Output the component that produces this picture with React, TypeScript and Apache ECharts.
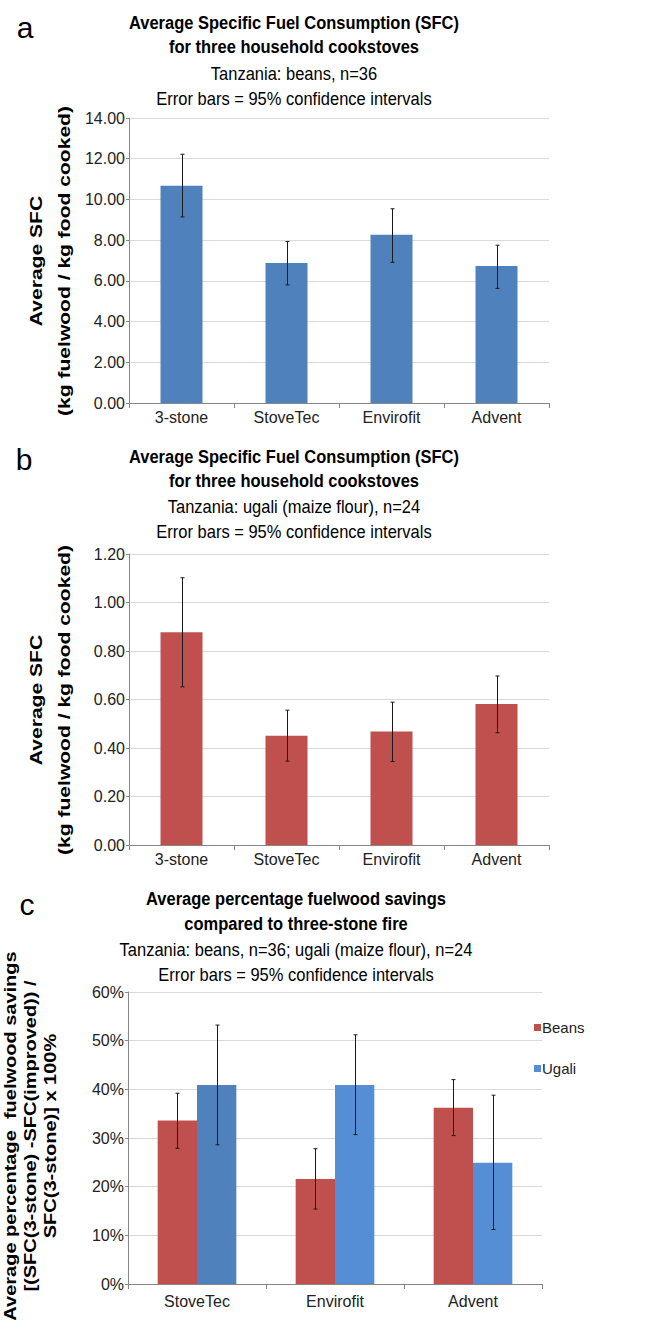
import React, { useEffect, useRef } from "react";
import * as echarts from "echarts";

// ---------- data ----------
const stoveCats = ["3-stone", "StoveTec", "Envirofit", "Advent"];
const sfcBeans = [10.67, 6.88, 8.27, 6.73];
const sfcBeansLow = [9.14, 5.8, 6.91, 5.63];
const sfcBeansHigh = [12.22, 7.93, 9.54, 7.75];

const sfcUgali = [0.877, 0.451, 0.468, 0.581];
const sfcUgaliLow = [0.652, 0.346, 0.344, 0.463];
const sfcUgaliHigh = [1.102, 0.556, 0.589, 0.697];

const improvedCats = ["StoveTec", "Envirofit", "Advent"];
const savingBeans = [33.6, 21.6, 36.2];
const savingBeansLow = [27.9, 15.4, 30.5];
const savingBeansHigh = [39.2, 27.8, 42.0];
const savingUgali = [40.9, 40.9, 24.9];
const savingUgaliLow = [28.6, 30.7, 11.2];
const savingUgaliHigh = [53.2, 51.2, 38.8];

const legendNames = ["Beans", "Ugali"];

const titleA = ["Average Specific Fuel Consumption (SFC)", "for three household cookstoves"];
const subA = ["Tanzania: beans, n=36", "Error bars = 95% confidence intervals"];
const titleB = ["Average Specific Fuel Consumption (SFC)", "for three household cookstoves"];
const subB = ["Tanzania: ugali (maize flour), n=24", "Error bars = 95% confidence intervals"];
const titleC = ["Average percentage fuelwood savings", "compared to three-stone fire"];
const subC = ["Tanzania: beans, n=36; ugali (maize flour), n=24", "Error bars = 95% confidence intervals"];
const yNameAB = "Average SFC\n(kg fuelwood / kg food cooked)";
const yNameC = "Average percentage  fuelwood savings\n[(SFC(3-stone) -SFC(improved)) /\nSFC(3-stone)] x 100%";

// ---------- styles ----------
const FONT = "'Liberation Sans', Arial, Helvetica, sans-serif";
const BLUE = "#4F81BD";
const LIGHTBLUE = "#558ED5";
const RED = "#C0504D";
const GRID = "#d9d9d9";
const AXIS = "#868686";

function errRender(offsetFrac: number) {
  return (params: any, api: any) => {
    const x = api.value(0);
    const lo = api.value(1);
    const hi = api.value(2);
    const pl = api.coord([x, lo]);
    const ph = api.coord([x, hi]);
    const band = api.size([1, 0])[0];
    const cx = Math.round(pl[0] + offsetFrac * band) + 0.5;
    const cap = 2;
    const st = { stroke: "#1a1a1a", lineWidth: 1 };
    return {
      type: "group",
      children: [
        { type: "line", shape: { x1: cx, y1: ph[1], x2: cx, y2: pl[1] }, style: st },
        { type: "line", shape: { x1: cx - cap, y1: ph[1], x2: cx + cap, y2: ph[1] }, style: st },
        { type: "line", shape: { x1: cx - cap, y1: pl[1], x2: cx + cap, y2: pl[1] }, style: st },
      ],
    };
  };
}

function makeXAxis(idx: number, cats: string[], margin: number) {
  return {
    type: "category",
    gridIndex: idx,
    data: cats,
    axisLine: { show: true, lineStyle: { color: AXIS, width: 1 } },
    axisTick: { show: true, length: 5, lineStyle: { color: AXIS } },
    axisLabel: { color: "#222", fontSize: 16, fontFamily: FONT, margin },
    splitLine: { show: false },
  };
}

function makeYAxis(idx: number, max: number, interval: number, fmt: (v: number) => string) {
  return {
    type: "value",
    gridIndex: idx,
    min: 0,
    max,
    interval,
    axisLine: { show: true, lineStyle: { color: AXIS, width: 1 } },
    axisTick: { show: true, length: 3, lineStyle: { color: AXIS } },
    axisLabel: { color: "#222", fontSize: 16, fontFamily: FONT, margin: 4, formatter: fmt },
    splitLine: { show: true, lineStyle: { color: GRID, width: 1 } },
  };
}

function titleBlock(cx: number, ys: number[], bold: string[], normal: string[]) {
  const els: any[] = [];
  bold.forEach((t, i) =>
    els.push({
      type: "text",
      x: cx,
      y: ys[i],
      scaleY: 1.12,
      style: {
        text: t,
        fontFamily: FONT,
        fontSize: 16.5,
        fontWeight: "bold",
        fill: "#000",
        align: "center",
        verticalAlign: "middle",
      },
    })
  );
  normal.forEach((t, i) =>
    els.push({
      type: "text",
      x: cx,
      y: ys[i + bold.length],
      scaleY: 1.12,
      style: {
        text: t,
        fontFamily: FONT,
        fontSize: 16.5,
        fill: "#000",
        align: "center",
        verticalAlign: "middle",
      },
    })
  );
  return els;
}

function letter(t: string, x: number, y: number) {
  return {
    type: "text",
    x,
    y,
    style: { text: t, fontFamily: FONT, fontSize: 30, fill: "#000", align: "center", verticalAlign: "middle" },
  };
}

function rotName(t: string, x: number, y: number, fs: number, lh: number, sx: number) {
  return {
    type: "text",
    x,
    y,
    rotation: Math.PI / 2,
    scaleX: sx,
    style: {
      text: t,
      fontFamily: FONT,
      fontSize: fs,
      lineHeight: lh,
      fontWeight: "bold",
      fill: "#000",
      align: "center",
      verticalAlign: "middle",
    },
  };
}

export default function App() {
  const ref = useRef<HTMLDivElement>(null);

  useEffect(() => {
    if (!ref.current) return;
    document.body.style.margin = "0";
    const chart = echarts.init(ref.current, undefined, { renderer: "svg" });

    const fmt2 = (v: number) => v.toFixed(2);
    const fmtPct = (v: number) => `${Math.round(v)}%`;

    const option: any = {
      animation: false,
      backgroundColor: "#fff",
      textStyle: { fontFamily: FONT },
      grid: [
        { left: 129, top: 118, width: 420, height: 285 },
        { left: 129, top: 554, width: 420, height: 291 },
        { left: 128, top: 992, width: 414, height: 292 },
      ],
      xAxis: [makeXAxis(0, stoveCats, 6), makeXAxis(1, stoveCats, 6), makeXAxis(2, improvedCats, 9)],
      yAxis: [makeYAxis(0, 14, 2, fmt2), makeYAxis(1, 1.2, 0.2, fmt2), makeYAxis(2, 60, 10, fmtPct)],
      legend: {
        data: legendNames,
        orient: "vertical",
        left: 529,
        top: 1015,
        itemWidth: 7,
        itemHeight: 7,
        itemGap: 26,
        icon: "rect",
        textStyle: { fontSize: 15, fontFamily: FONT, color: "#222", padding: [0, 0, 0, -4] },
      },
      series: [
        {
          name: "SFC beans",
          type: "bar",
          xAxisIndex: 0,
          yAxisIndex: 0,
          data: sfcBeans,
          barWidth: "40%",
          itemStyle: { color: BLUE },
        },
        {
          name: "SFC beans CI",
          type: "custom",
          xAxisIndex: 0,
          yAxisIndex: 0,
          z: 5,
          renderItem: errRender(0),
          encode: { x: 0, y: [1, 2] },
          data: stoveCats.map((c, i) => [i, sfcBeansLow[i], sfcBeansHigh[i]]),
        },
        {
          name: "SFC ugali",
          type: "bar",
          xAxisIndex: 1,
          yAxisIndex: 1,
          data: sfcUgali,
          barWidth: "40%",
          itemStyle: { color: RED },
        },
        {
          name: "SFC ugali CI",
          type: "custom",
          xAxisIndex: 1,
          yAxisIndex: 1,
          z: 5,
          renderItem: errRender(0),
          encode: { x: 0, y: [1, 2] },
          data: stoveCats.map((c, i) => [i, sfcUgaliLow[i], sfcUgaliHigh[i]]),
        },
        {
          name: legendNames[0],
          type: "bar",
          xAxisIndex: 2,
          yAxisIndex: 2,
          data: savingBeans,
          barGap: "0%",
          barCategoryGap: "43%",
          itemStyle: { color: RED },
        },
        {
          name: legendNames[1],
          type: "bar",
          xAxisIndex: 2,
          yAxisIndex: 2,
          data: savingUgali.map((v, i) => (i === 0 ? { value: v, itemStyle: { color: BLUE } } : v)),
          barGap: "0%",
          barCategoryGap: "43%",
          itemStyle: { color: LIGHTBLUE },
        },
        {
          name: "Beans CI",
          type: "custom",
          xAxisIndex: 2,
          yAxisIndex: 2,
          z: 5,
          renderItem: errRender(-0.1425),
          encode: { x: 0, y: [1, 2] },
          data: improvedCats.map((c, i) => [i, savingBeansLow[i], savingBeansHigh[i]]),
        },
        {
          name: "Ugali CI",
          type: "custom",
          xAxisIndex: 2,
          yAxisIndex: 2,
          z: 5,
          renderItem: errRender(0.1425),
          encode: { x: 0, y: [1, 2] },
          data: improvedCats.map((c, i) => [i, savingUgaliLow[i], savingUgaliHigh[i]]),
        },
      ],
      graphic: [
        letter("a", 25, 27),
        letter("b", 24, 459),
        letter("c", 27, 904),
        ...titleBlock(294, [23, 47, 74, 99], titleA, subA),
        ...titleBlock(294, [457, 481, 507, 532], titleB, subB),
        ...titleBlock(296, [899, 924, 950, 975], titleC, subC),
        rotName(yNameAB, 50, 261, 17, 28, 1.24),
        rotName(yNameAB, 50, 700, 17, 28, 1.24),
        rotName(yNameC, 31, 1136, 16, 20, 1.25),
      ],
    };

    chart.setOption(option);
    return () => chart.dispose();
  }, []);

  return (
    <div
      ref={ref}
      style={{ position: "absolute", left: 0, top: 0, width: 670, height: 1338, background: "#fff" }}
    />
  );
}
